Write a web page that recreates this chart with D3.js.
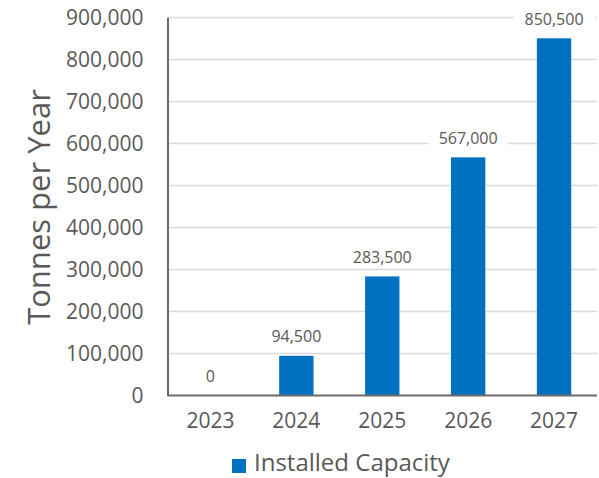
<!DOCTYPE html>
<html><head><meta charset="utf-8">
<script src="https://cdn.jsdelivr.net/npm/d3@7"></script>
<style>body{margin:0;background:#fff}svg{display:block}text{font-family:"Open Sans",sans-serif}</style>
</head><body>
<script>
const categories = ["2023","2024","2025","2026","2027"];
const values = [0, 94500, 283500, 567000, 850500];
const yTicks = [0,100000,200000,300000,400000,500000,600000,700000,800000,900000];
const seriesName = "Installed Capacity";
const yTitle = "Tonnes per Year";

const W=599,H=478;
const m={l:167.5,r:597,t:17.5,b:395.5};
const svg=d3.select("body").append("svg").attr("width",W).attr("height",H);
const x=d3.scaleBand().domain(categories).range([m.l,m.r]).paddingInner(0.6).paddingOuter(0.3);
const y=d3.scaleLinear().domain([0,900000]).range([m.b,m.t]);
const fmt=d3.format(",");
const grey="#595959";

// gridlines
svg.append("g").selectAll("line").data(yTicks.filter(d=>d>0)).join("line")
 .attr("x1",m.l).attr("x2",m.r).attr("y1",d=>y(d)).attr("y2",d=>y(d))
 .attr("stroke","#d9d9d9").attr("stroke-width",1.3);

// y axis
const ya=svg.append("g").attr("transform",`translate(${m.l},0)`)
 .call(d3.axisLeft(y).tickValues(yTicks).tickFormat(fmt).tickSize(0).tickPadding(24));
ya.select(".domain").attr("stroke","#6b6b6b").attr("stroke-width",2);
ya.selectAll("text").attr("font-size",21).attr("fill",grey).attr("font-family","'Open Sans',sans-serif");

// bars
svg.append("g").selectAll("rect").data(values).join("rect")
 .attr("x",(d,i)=>x(categories[i])).attr("width",x.bandwidth())
 .attr("y",d=>y(d)).attr("height",d=>y(0)-y(d)).attr("fill","#0070C0");

// x axis
const xa=svg.append("g").attr("transform",`translate(0,${m.b})`)
 .call(d3.axisBottom(x).tickSize(0).tickPadding(18));
xa.select(".domain").attr("stroke","#6b6b6b").attr("stroke-width",2).attr("d",`M${m.l},0H${m.r}`);
xa.selectAll("text").attr("font-size",21).attr("fill",grey).attr("font-family","'Open Sans',sans-serif");

// data labels
const lg=svg.append("g").selectAll("g").data(values).join("g")
 .attr("transform",(d,i)=>`translate(${x(categories[i])+x.bandwidth()/2},${y(d)-19})`);
lg.append("rect").attr("fill","#fff").attr("y",-10).attr("height",20)
 .attr("x",d=>-(fmt(d).length*4.6+8)).attr("width",d=>2*(fmt(d).length*4.6+8));
lg.append("text").text(d=>fmt(d)).attr("text-anchor","middle").attr("dy","0.35em")
 .attr("font-size",16).attr("fill",grey);

// y title
svg.append("text").attr("transform","translate(39,207) rotate(-90)")
 .attr("text-anchor","middle").attr("dy","0.35em").attr("font-size",31).attr("fill",grey).text(yTitle);

// legend
svg.append("rect").attr("x",232).attr("y",459).attr("width",14).attr("height",14).attr("fill","#0070C0");
svg.append("text").attr("x",254).attr("y",471).attr("font-size",24).attr("fill",grey).text(seriesName);
</script>
</body></html>
